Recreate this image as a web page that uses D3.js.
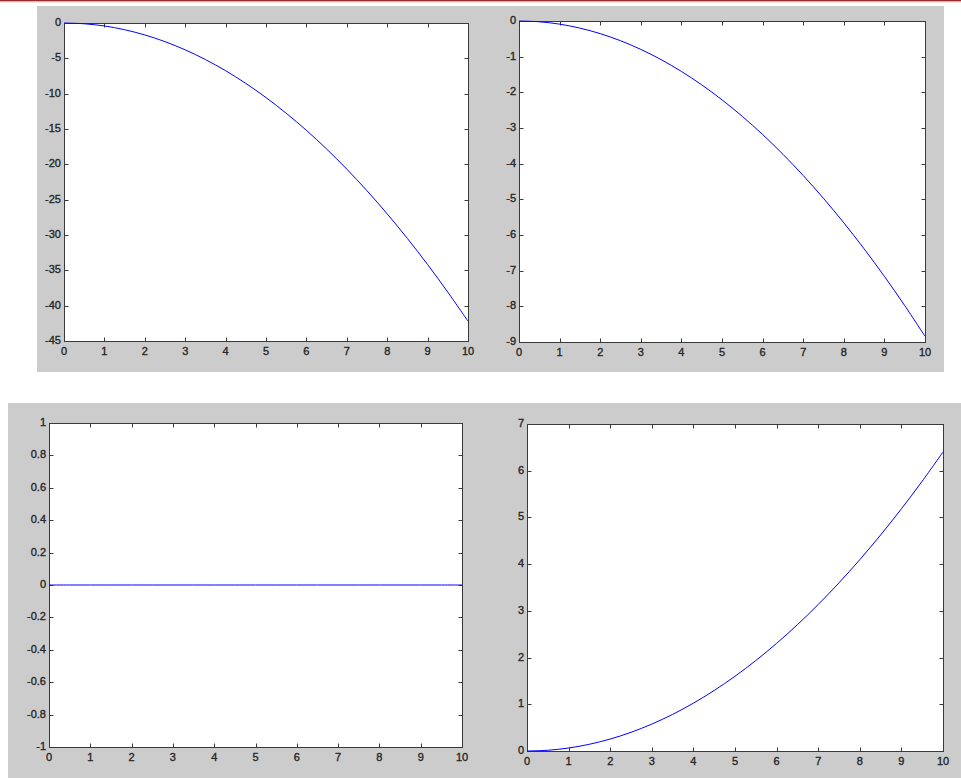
<!DOCTYPE html>
<html>
<head>
<meta charset="utf-8">
<script src="https://cdn.jsdelivr.net/npm/d3@7"></script>
<style>
  html, body { margin: 0; padding: 0; background: #ffffff; }
  svg { display: block; }
  .tick-label { font-family: "Liberation Sans", Arial, sans-serif; font-size: 11px; fill: #262626; stroke: #262626; stroke-width: 0.35px; }
</style>
</head>
<body>
<svg id="fig" width="961" height="778"></svg>
<script>
// Sample times shared by all four traces
const tValues = [0, 0.5, 1, 1.5, 2, 2.5, 3, 3.5, 4, 4.5, 5, 5.5, 6, 6.5, 7, 7.5, 8, 8.5, 9, 9.5, 10];

// Trace values for each subplot
const seriesA = [0, -0.11, -0.42, -0.95, -1.69, -2.64, -3.80, -5.17, -6.75, -8.55, -10.55,
                 -12.77, -15.19, -17.83, -20.68, -23.74, -27.01, -30.49, -34.18, -38.09, -42.2];
const seriesB = [0, -0.022, -0.088, -0.199, -0.354, -0.553, -0.796, -1.083, -1.414, -1.790, -2.21,
                 -2.674, -3.182, -3.735, -4.332, -4.973, -5.658, -6.387, -7.160, -7.978, -8.84];
const seriesC = [0, 0, 0, 0, 0, 0, 0, 0, 0, 0, 0, 0, 0, 0, 0, 0, 0, 0, 0, 0, 0];
const seriesD = [0, 0.016, 0.064, 0.144, 0.256, 0.4, 0.576, 0.784, 1.024, 1.296, 1.6,
                 1.936, 2.304, 2.704, 3.136, 3.6, 4.096, 4.624, 5.184, 5.776, 6.4];

// Tick values and labels
const xTicks = [0, 1, 2, 3, 4, 5, 6, 7, 8, 9, 10];
const xTickLabels = ["0", "1", "2", "3", "4", "5", "6", "7", "8", "9", "10"];
const yTicksA = [0, -5, -10, -15, -20, -25, -30, -35, -40, -45];
const yTickLabelsA = ["0", "-5", "-10", "-15", "-20", "-25", "-30", "-35", "-40", "-45"];
const yTicksB = [0, -1, -2, -3, -4, -5, -6, -7, -8, -9];
const yTickLabelsB = ["0", "-1", "-2", "-3", "-4", "-5", "-6", "-7", "-8", "-9"];
const yTicksC = [1, 0.8, 0.6, 0.4, 0.2, 0, -0.2, -0.4, -0.6, -0.8, -1];
const yTickLabelsC = ["1", "0.8", "0.6", "0.4", "0.2", "0", "-0.2", "-0.4", "-0.6", "-0.8", "-1"];
const yTicksD = [0, 1, 2, 3, 4, 5, 6, 7];
const yTickLabelsD = ["0", "1", "2", "3", "4", "5", "6", "7"];

const svg = d3.select("#fig");

// Window header strip
svg.append("rect").attr("x", 0).attr("y", 0).attr("width", 961).attr("height", 1.5).attr("fill", "#9b2d2d");
svg.append("rect").attr("x", 0).attr("y", 1.5).attr("width", 961).attr("height", 1).attr("fill", "#e6c9c9");

// Figure backgrounds
svg.append("rect").attr("x", 37).attr("y", 6).attr("width", 907).attr("height", 366).attr("fill", "#cccccc");
svg.append("rect").attr("x", 8).attr("y", 403).attr("width", 953).attr("height", 375).attr("fill", "#cccccc");

// Subplot layout
const panels = [
  { box: [64, 23, 468, 341], ys: seriesA, yDomain: [-45, 0], yTicks: yTicksA, yLabels: yTickLabelsA },
  { box: [519, 21, 925, 342], ys: seriesB, yDomain: [-9, 0], yTicks: yTicksB, yLabels: yTickLabelsB },
  { box: [49, 423, 462, 747], ys: seriesC, yDomain: [-1, 1], yTicks: yTicksC, yLabels: yTickLabelsC },
  { box: [527, 424, 943, 751], ys: seriesD, yDomain: [0, 7], yTicks: yTicksD, yLabels: yTickLabelsD }
];

const tickLen = 4;

panels.forEach(p => {
  const [x0, y0, x1, y1] = p.box;
  const x = d3.scaleLinear().domain([0, 10]).range([x0, x1]);
  const y = d3.scaleLinear().domain(p.yDomain).range([y1, y0]);
  const g = svg.append("g");

  // plot area
  g.append("rect")
    .attr("x", x0 + 0.5).attr("y", y0 + 0.5)
    .attr("width", x1 - x0).attr("height", y1 - y0)
    .attr("fill", "#ffffff");

  // ticks pointing inward on all four sides
  const tickColor = "#3a3a3a";
  xTicks.forEach(v => {
    const px = Math.round(x(v)) + 0.5;
    g.append("line").attr("x1", px).attr("x2", px).attr("y1", y1 + 0.5).attr("y2", y1 + 0.5 - tickLen)
      .attr("stroke", tickColor).attr("stroke-width", 1);
    g.append("line").attr("x1", px).attr("x2", px).attr("y1", y0 + 0.5).attr("y2", y0 + 0.5 + tickLen)
      .attr("stroke", tickColor).attr("stroke-width", 1);
  });
  p.yTicks.forEach(v => {
    const py = Math.round(y(v)) + 0.5;
    g.append("line").attr("x1", x0 + 0.5).attr("x2", x0 + 0.5 + tickLen).attr("y1", py).attr("y2", py)
      .attr("stroke", tickColor).attr("stroke-width", 1);
    g.append("line").attr("x1", x1 + 0.5).attr("x2", x1 + 0.5 - tickLen).attr("y1", py).attr("y2", py)
      .attr("stroke", tickColor).attr("stroke-width", 1);
  });

  // axes box
  g.append("rect")
    .attr("x", x0 + 0.5).attr("y", y0 + 0.5)
    .attr("width", x1 - x0).attr("height", y1 - y0)
    .attr("fill", "none").attr("stroke", "#3a3a3a").attr("stroke-width", 1);

  // trace
  const line = d3.line()
    .x((d, i) => x(tValues[i]))
    .y(d => y(d))
    .curve(d3.curveCatmullRom);
  g.append("path")
    .datum(p.ys)
    .attr("d", line)
    .attr("fill", "none")
    .attr("stroke", "#0000ff")
    .attr("stroke-width", 1);

  // tick labels
  xTicks.forEach((v, i) => {
    g.append("text").attr("class", "tick-label")
      .attr("x", x(v)).attr("y", y1 + 14)
      .attr("text-anchor", "middle")
      .text(xTickLabels[i]);
  });
  p.yTicks.forEach((v, i) => {
    g.append("text").attr("class", "tick-label")
      .attr("x", x0 - 3).attr("y", y(v) + 3)
      .attr("text-anchor", "end")
      .text(p.yLabels[i]);
  });
});
</script>
</body>
</html>
